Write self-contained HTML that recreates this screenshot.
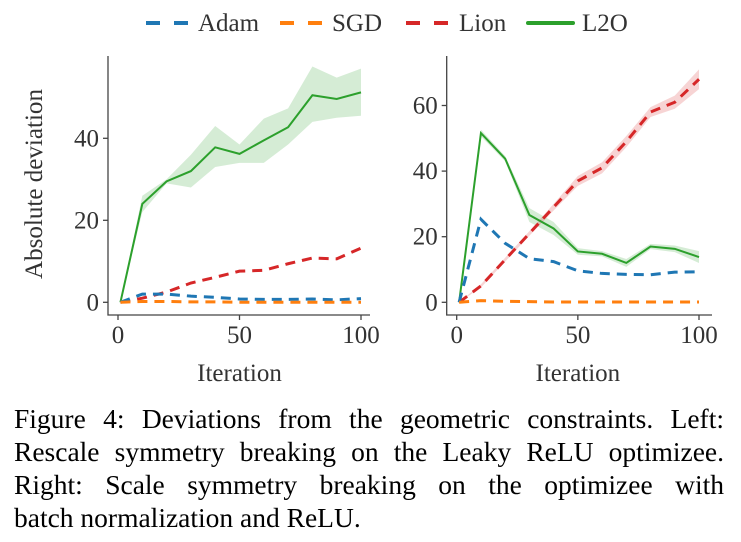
<!DOCTYPE html>
<html><head><meta charset="utf-8"><style>
html,body{margin:0;padding:0;background:#fff;}
svg{display:block;font-family:"Liberation Serif",serif;}
</style></head><body>
<svg id="fig" width="741" height="542" viewBox="0 0 741 542">
<g id="legend">
  <g><line x1="146" y1="23" x2="188" y2="23" stroke="#1f77b4" stroke-width="4" stroke-dasharray="14,14"/><text x="198" y="31" font-size="25" fill="#333">Adam</text></g>
  <g><line x1="280" y1="23" x2="322" y2="23" stroke="#ff7f0e" stroke-width="4" stroke-dasharray="14,14"/><text x="332" y="31" font-size="25" fill="#333">SGD</text></g>
  <g><line x1="406" y1="23" x2="449" y2="23" stroke="#d62728" stroke-width="4" stroke-dasharray="14,14"/><text x="459" y="31" font-size="25" fill="#333">Lion</text></g>
  <g><line x1="528" y1="23" x2="573" y2="23" stroke="#2ca02c" stroke-width="4" stroke-linecap="round"/><text x="582" y="31" font-size="25" fill="#333">L2O</text></g>
</g>
<g id="left"></g>
<g id="right"></g>
<text x="42" y="184" font-size="25" fill="#333" text-anchor="middle" transform="rotate(-90 42 184)" textLength="190" lengthAdjust="spacingAndGlyphs">Absolute deviation</text>
<g font-size="27.5" fill="#000">
  <text class="cap" data-y="428" data-w="710">Figure 4: Deviations from the geometric constraints. Left:</text>
  <text class="cap" data-y="461" data-w="710">Rescale symmetry breaking on the Leaky ReLU optimizee.</text>
  <text class="cap" data-y="494" data-w="710">Right: Scale symmetry breaking on the optimizee with</text>
  <text class="cap" data-y="527" data-w="0">batch normalization and ReLU.</text>
</g>
</svg>
<script>
const iters = [1,10,20,30,40,50,60,70,80,90,100];
const xTicks = [0,50,100];
const leftYTicks = [0,20,40];
const rightYTicks = [0,20,40,60];
const leftL2O = [0,24,29.5,32,37.8,36.2,39.5,42.7,50.5,49.6,51.2];
const leftL2OLow = [0,22,29,28,33,34,34,38.5,44,45,45.5];
const leftL2OHigh = [0,26,30,36,43,38.5,44.8,47.3,57.5,54.8,57];
const leftLion = [0,1,2.5,4.7,6.1,7.6,7.8,9.4,10.8,10.6,13.2];
const leftAdam = [0,2,2,1.5,1.2,0.8,0.7,0.7,0.8,0.6,0.9];
const leftSGD = [0,0.2,0.2,0.1,0.1,0,0,0,0,0,0];
const rightL2O = [0,51.6,43.8,26.6,22.5,15.5,14.8,12,17,16.3,13.8];
const rightL2OLow = [0,50.6,43,24.5,20.5,14.5,14,10.8,16.2,15.3,12];
const rightL2OHigh = [0,52.6,44.6,28.7,24.5,16.5,15.6,13.2,17.8,17.3,15.6];
const rightAdam = [0,25.3,18,13.3,12.4,9.6,8.8,8.5,8.4,9.2,9.3];
const rightLion = [0,5,13,21,29,37,41,49,58,61,68];
const rightLionLow = [0,4.5,12.4,20.3,28,35.5,39.3,47.3,56.5,59,65];
const rightLionHigh = [0,5.5,13.6,21.7,30,38.5,42.7,50.7,59.5,63,71];
const rightSGD = [0,0.5,0.3,0.2,0.1,0.1,0.1,0.1,0.1,0.1,0.1];

const NS='http://www.w3.org/2000/svg';
function mk(parent,tag,attrs){const e=document.createElementNS(NS,tag);for(const k in attrs)e.setAttribute(k,attrs[k]);parent.appendChild(e);return e;}

(function(){
  document.querySelectorAll('.cap').forEach(t=>{
    const y=+t.getAttribute('data-y'), w=+t.getAttribute('data-w');
    t.setAttribute('x',14);
    t.setAttribute('y',y);
    if(w>0){
      const nat=t.getComputedTextLength();
      if(nat>w){t.setAttribute('textLength',w);t.setAttribute('lengthAdjust','spacingAndGlyphs');}
      else{
        const spaces=(t.textContent.match(/ /g)||[]).length;
        t.setAttribute('word-spacing',(w-nat)/spaces);
      }
    }
  });
})();

function panel(g, cfg){
  const xs = v => cfg.x0 + (v - 0) * (cfg.x100 - cfg.x0) / 100;
  const ys = v => cfg.y0 - v * cfg.yk;
  const ax = mk(g,'path',{d:`M${cfg.axX},56 V315 H${cfg.axR}`,fill:'none',stroke:'#444','stroke-width':1.3});
  
  
  xTicks.forEach(t=>{
    const l=mk(g,'line',{x1:xs(t),x2:xs(t),y1:315,y2:320,stroke:'#444','stroke-width':1.3});
    
    
    const tx=mk(g,'text',{x:xs(t),y:343,'font-size':25,fill:'#333','text-anchor':'middle'});
    tx.textContent=t;
    
    
  });
  cfg.yTicks.forEach(t=>{
    const l=mk(g,'line',{x1:cfg.axX-5,x2:cfg.axX,y1:ys(t),y2:ys(t),stroke:'#444','stroke-width':1.3});
    
    
    const tx=mk(g,'text',{x:cfg.axX-9,y:ys(t)+8,'font-size':25,fill:'#333','text-anchor':'end'});
    tx.textContent=t;
    
    
  });
  const xt=mk(g,'text',{x:(xs(0)+xs(100))/2,y:381,'font-size':25,fill:'#333','text-anchor':'middle'});
  xt.textContent='Iteration';
  
  
  function band(lo,hi,color,name){
    let d='M'+iters.map((it,i)=>xs(it)+','+ys(hi[i])).join(' L');
    d+=' L'+iters.slice().reverse().map((it,j)=>{const i=iters.length-1-j;return xs(it)+','+ys(lo[i]);}).join(' L')+' Z';
    const p=mk(g,'path',{d:d,fill:color,'fill-opacity':0.2,stroke:'none'});
    
    
  }
  function line(vals,color,dash,name){
    const d='M'+iters.map((it,i)=>xs(it)+','+ys(vals[i])).join(' L');
    const a={d:d,fill:'none',stroke:color,'stroke-width':dash?3:2};
    if(dash)a['stroke-dasharray']='10,7';
    const p=mk(g,'path',a);
    
    
  }
  cfg.bands.forEach(b=>band(b[0],b[1],b[2],b[3]));
  line(cfg.l2o,'#2ca02c',false,'l2o-line');
  line(cfg.lion,'#d62728',true,'lion-line');
  line(cfg.adam,'#1f77b4',true,'adam-line');
  line(cfg.sgd,'#ff7f0e',true,'sgd-line');
}
panel(document.getElementById('left'),{x0:118,x100:361,axX:108,axR:370,y0:302.3,yk:4.1,yTicks:leftYTicks,
  l2o:leftL2O,lion:leftLion,adam:leftAdam,sgd:leftSGD,bands:[[leftL2OLow,leftL2OHigh,'#2ca02c','l2o-band']]});
panel(document.getElementById('right'),{x0:456.7,x100:699,axX:446.7,axR:712,y0:302.3,yk:3.28,yTicks:rightYTicks,
  l2o:rightL2O,lion:rightLion,adam:rightAdam,sgd:rightSGD,
  bands:[[rightL2OLow,rightL2OHigh,'#2ca02c','l2o-band'],[rightLionLow,rightLionHigh,'#d62728','lion-band']]});
</script>
</body></html>
